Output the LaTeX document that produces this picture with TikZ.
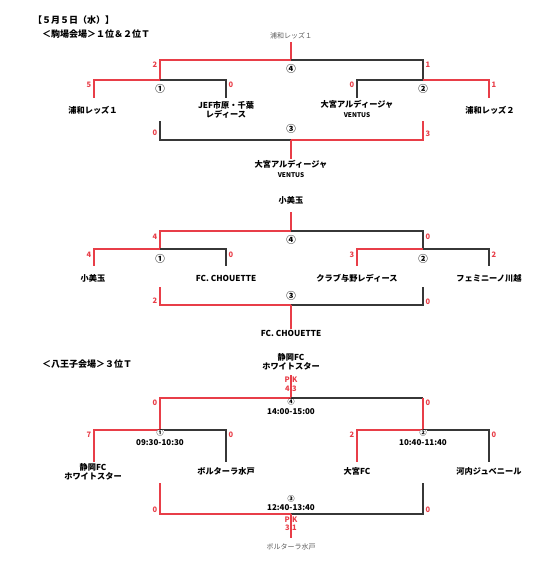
\documentclass[tikz,border=0pt]{standalone}
\usepackage{fontspec}
\setmainfont{Noto Sans CJK JP}
\definecolor{winred}{RGB}{232,62,72}
\definecolor{linegray}{RGB}{55,55,55}
\tikzset{
  win/.style={draw=winred, line width=1.35pt},
  lose/.style={draw=linegray, line width=1.35pt},
  team/.style={font=\fontsize{8.2}{9.5}\selectfont\bfseries, align=center, inner sep=1pt},
  champ/.style={font=\fontsize{7}{8}\selectfont, text=black!65, inner sep=1pt},
  pts/.style={font=\fontsize{7.5}{8}\selectfont\bfseries, text=winred, inner sep=0.5pt},
  matchno/.style={font=\fontsize{9.5}{10}\selectfont\bfseries, inner sep=0pt},
  smallno/.style={font=\fontsize{7}{7}\selectfont\bfseries, inner sep=0pt},
  kickoff/.style={font=\fontsize{8}{8}\selectfont\bfseries, inner sep=0pt},
  heading/.style={font=\fontsize{9}{10}\selectfont\bfseries, anchor=west, inner sep=0pt},
}
\newcommand{\ventus}{{\fontsize{6.5}{6.5}\selectfont VENTUS}}
\begin{document}
\begin{tikzpicture}[x=1pt, y=-1pt, line cap=butt, line join=miter]
  \useasboundingbox (0,0) rectangle (556,571);

  % titles
  \node[heading] (day) at (33,20) {【５月５日（水）】};
  \node[heading] (komaba) at (42,34) {＜駒場会場＞１位＆２位Ｔ};
  \node[heading] (hachi) at (42,364) {＜八王子会場＞３位Ｔ};

  % ===== komaba, 1st place =====
  \coordinate (f1l) at (160,60);  \coordinate (f1m) at (291,60);  \coordinate (f1r) at (423,60);
  \coordinate (m1l) at (94,80);   \coordinate (m1m) at (160,80);  \coordinate (m1r) at (226,80);
  \coordinate (m2l) at (357,80);  \coordinate (m2m) at (423,80);  \coordinate (m2r) at (489,80);
  \coordinate (s1a) at (94,98);   \coordinate (s1b) at (226,98);
  \coordinate (s1c) at (357,98);  \coordinate (s1d) at (489,98);
  \coordinate (q1l) at (160,121); \coordinate (q1r) at (423,121);
  \coordinate (t1l) at (160,140); \coordinate (t1m) at (291,140); \coordinate (t1r) at (423,140);
  \node[champ] (w1) at (291,36) {浦和レッズ１};
  \node[team] (w1b) at (291,169) {大宮アルディージャ\\\ventus};
  \node[team] (a1) at (93,110) {浦和レッズ１};
  \node[team] (a2) at (226,110) {JEF市原・千葉\\レディース};
  \node[team] (a3) at (357,109) {大宮アルディージャ\\\ventus};
  \node[team] (a4) at (490,110) {浦和レッズ２};
  % final
  \draw[win] (w1) ++(0,6) -- (f1m);
  \draw[win] (f1m) -- (f1l) -- (m1m);
  \draw[lose] (f1m) -- (f1r) -- (m2m);
  \draw[win] (m1m) -- (m1l) -- (s1a);
  \draw[lose] (m1m) -- (m1r) -- (s1b);
  \draw[lose] (m2m) -- (m2l) -- (s1c);
  \draw[win] (m2m) -- (m2r) -- (s1d);
  % third place
  \draw[lose] (q1l) -- (t1l) -- (t1m);
  \draw[win] (t1m) -- (t1r) -- (q1r);
  \draw[win] (t1m) -- (w1b.north);
  % numbers
  \node[matchno] (n14) at (291,69) {④};
  \node[matchno] (n11) at (160,89) {①};
  \node[matchno] (n12) at (423,89) {②};
  \node[matchno] (n13) at (291,129) {③};
  \node[pts, anchor=east] (p11) at (158,65) {2};
  \node[pts, anchor=west] (p12) at (425,65) {1};
  \node[pts, anchor=east] (p13) at (92,85) {5};
  \node[pts, anchor=west] (p14) at (228,85) {0};
  \node[pts, anchor=east] (p15) at (355,85) {0};
  \node[pts, anchor=west] (p16) at (491,85) {1};
  \node[pts, anchor=east] (p17) at (158,133) {0};
  \node[pts, anchor=west] (p18) at (425,134) {3};

  % ===== komaba, 2nd place =====
  \coordinate (f2l) at (160,231); \coordinate (f2m) at (291,231); \coordinate (f2r) at (423,231);
  \coordinate (m3l) at (94,249);  \coordinate (m3m) at (160,249); \coordinate (m3r) at (226,249);
  \coordinate (m4l) at (357,249); \coordinate (m4m) at (423,249); \coordinate (m4r) at (489,249);
  \coordinate (s2a) at (94,266);  \coordinate (s2b) at (226,266);
  \coordinate (s2c) at (357,266); \coordinate (s2d) at (489,266);
  \coordinate (q2l) at (160,287); \coordinate (q2r) at (423,287);
  \coordinate (t2l) at (160,305); \coordinate (t2m) at (291,305); \coordinate (t2r) at (423,305);
  \node[team] (w2) at (291,200) {小美玉};
  \node[team] (w2b) at (291,333) {FC. CHOUETTE};
  \node[team] (b1) at (93,278) {小美玉};
  \node[team] (b2) at (226,278) {FC. CHOUETTE};
  \node[team] (b3) at (357,278) {クラブ与野レディース};
  \node[team] (b4) at (489,278) {フェミニーノ川越};
  \draw[win] (w2) ++(0,12) -- (f2m);
  \draw[win] (f2m) -- (f2l) -- (m3m);
  \draw[lose] (f2m) -- (f2r) -- (m4m);
  \draw[win] (m3m) -- (m3l) -- (s2a);
  \draw[lose] (m3m) -- (m3r) -- (s2b);
  \draw[win] (m4m) -- (m4l) -- (s2c);
  \draw[lose] (m4m) -- (m4r) -- (s2d);
  \draw[win] (q2l) -- (t2l) -- (t2m);
  \draw[lose] (t2m) -- (t2r) -- (q2r);
  \draw[win] (t2m) -- (w2b.north);
  \node[matchno] (n24) at (291,240) {④};
  \node[matchno] (n21) at (160,259) {①};
  \node[matchno] (n22) at (423,259) {②};
  \node[matchno] (n23) at (291,296) {③};
  \node[pts, anchor=east] (p21) at (158,237) {4};
  \node[pts, anchor=west] (p22) at (425,237) {0};
  \node[pts, anchor=east] (p23) at (92,255) {4};
  \node[pts, anchor=west] (p24) at (228,255) {0};
  \node[pts, anchor=east] (p25) at (355,255) {3};
  \node[pts, anchor=west] (p26) at (491,255) {2};
  \node[pts, anchor=east] (p27) at (158,301) {2};
  \node[pts, anchor=west] (p28) at (425,302) {0};

  % ===== hachioji, 3rd place =====
  \coordinate (f3l) at (160,398); \coordinate (f3m) at (291,398); \coordinate (f3r) at (423,398);
  \coordinate (m5l) at (94,430);  \coordinate (m5m) at (160,430); \coordinate (m5r) at (226,430);
  \coordinate (m6l) at (357,430); \coordinate (m6m) at (423,430); \coordinate (m6r) at (489,430);
  \coordinate (s3a) at (94,462);  \coordinate (s3b) at (226,462);
  \coordinate (s3c) at (357,462); \coordinate (s3d) at (489,462);
  \coordinate (q3l) at (160,483); \coordinate (q3r) at (423,483);
  \coordinate (t3l) at (160,514); \coordinate (t3m) at (291,514); \coordinate (t3r) at (423,514);
  \coordinate (pk1) at (291,375); \coordinate (pk2) at (291,538);
  \node[team] (w3) at (291,362) {静岡FC\\ホワイトスター};
  \node[champ] (w3b) at (291,547) {ボルターラ水戸};
  \node[team] (c1) at (93,472) {静岡FC\\ホワイトスター};
  \node[team] (c2) at (226,471) {ボルターラ水戸};
  \node[team] (c3) at (357,471) {大宮FC};
  \node[team] (c4) at (489,471) {河内ジュベニール};
  \draw[win] (pk1) -- (f3m);
  \draw[win] (f3m) -- (f3l) -- (m5m);
  \draw[lose] (f3m) -- (f3r);
  \draw[win] (f3r) -- (m6m);
  \draw[win] (m5m) -- (m5l) -- (s3a);
  \draw[lose] (m5m) -- (m5r) -- (s3b);
  \draw[win] (m6m) -- (m6l) -- (s3c);
  \draw[lose] (m6m) -- (m6r) -- (s3d);
  \draw[win] (q3l) -- (t3l) -- (t3m);
  \draw[lose] (t3m) -- (t3r) -- (q3r);
  \draw[win] (t3m) -- (pk2);
  % PK and kick-off times
  \node[pts] (pk1a) at (291,380) {P\hspace{2.5pt}K};
  \node[pts] (pk1b) at (291,389) {4\hspace{2.5pt}3};
  \node[pts] (pk2a) at (291,520) {P\hspace{2.5pt}K};
  \node[pts] (pk2b) at (291,528) {3\hspace{2.5pt}1};
  \node[smallno, fill=white] (n34) at (291,402) {④};
  \node[smallno, fill=white] (n31) at (160,433) {①};
  \node[smallno, fill=white] (n32) at (423,433) {②};
  \node[smallno] (n33) at (291,499) {③};
  \node[kickoff] (k34) at (291,412) {14:00-15:00};
  \node[kickoff] (k31) at (160,443) {09:30-10:30};
  \node[kickoff] (k32) at (423,443) {10:40-11:40};
  \node[kickoff] (k33) at (291,508) {12:40-13:40};
  \node[pts, anchor=east] (p31) at (158,403) {0};
  \node[pts, anchor=west] (p32) at (425,403) {0};
  \node[pts, anchor=east] (p33) at (92,435) {7};
  \node[pts, anchor=west] (p34) at (228,435) {0};
  \node[pts, anchor=east] (p35) at (355,435) {2};
  \node[pts, anchor=west] (p36) at (491,435) {0};
  \node[pts, anchor=east] (p37) at (158,510) {0};
  \node[pts, anchor=west] (p38) at (425,510) {0};
\end{tikzpicture}
\end{document}
